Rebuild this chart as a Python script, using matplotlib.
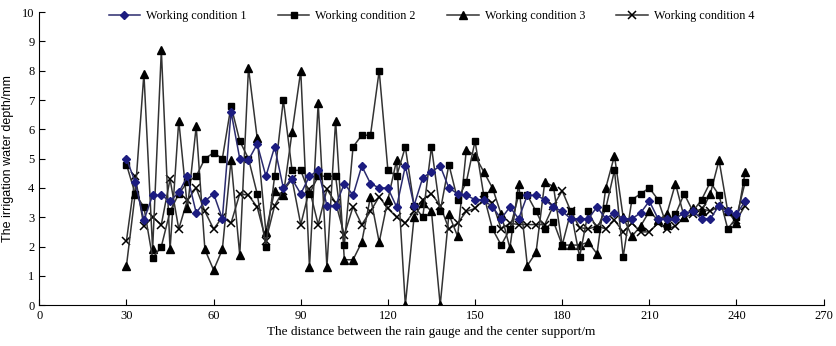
import matplotlib
matplotlib.use('Agg')
import matplotlib.pyplot as plt

plt.rcParams['font.family'] = 'Liberation Serif'

# distance from center support (m)
distance = [30, 33, 36, 39, 42, 45, 48, 51, 54, 57, 60, 63, 66, 69, 72, 75, 78, 81,
            84, 87, 90, 93, 96, 99, 102, 105, 108, 111, 114, 117, 120, 123, 126, 129,
            132, 135, 138, 141, 144, 147, 150, 153, 156, 159, 162, 165, 168, 171, 174,
            177, 180, 183, 186, 189, 192, 195, 198, 201, 204, 207, 210, 213, 216, 219,
            222, 225, 228, 231, 234, 237, 240, 243]

cond1 = [5.0, 4.2, 2.9, 3.75, 3.75, 3.55, 3.85, 4.4, 3.15, 3.55, 3.8, 2.95, 6.6, 5.0,
         4.95, 5.5, 4.4, 5.4, 4.0, 4.3, 3.8, 4.4, 4.6, 3.4, 3.4, 4.15, 3.75, 4.75, 4.15,
         4.0, 4.0, 3.35, 4.75, 3.4, 4.35, 4.55, 4.75, 4.0, 3.8, 3.75, 3.6, 3.6, 3.35,
         2.95, 3.35, 2.95, 3.75, 3.75, 3.6, 3.35, 3.2, 2.95, 2.95, 2.95, 3.35, 2.95,
         3.15, 2.95, 2.95, 3.15, 3.55, 2.95, 2.95, 2.95, 3.15, 3.2, 2.95, 2.95, 3.4,
         3.2, 3.1, 3.55]

cond2 = [4.8, 3.8, 3.35, 1.6, 2.0, 3.2, 3.8, 4.2, 4.4, 5.0, 5.2, 5.0, 6.8, 5.6, 5.0,
         3.8, 2.0, 4.4, 7.0, 4.6, 4.6, 3.8, 4.4, 4.4, 4.4, 2.05, 5.4, 5.8, 5.8, 8.0, 4.6,
         4.4, 5.4, 3.4, 3.0, 5.4, 3.2, 4.8, 3.6, 4.2, 5.6, 3.75, 2.6, 2.05, 2.6, 3.75,
         3.75, 3.2, 2.6, 2.85, 2.05, 3.2, 1.65, 3.2, 2.6, 3.3, 4.6, 1.65, 3.6, 3.8, 4.0,
         3.6, 2.7, 3.1, 3.8, 3.2, 3.6, 4.2, 3.75, 2.6, 3.0, 4.2]

cond3 = [1.35, 3.8, 7.9, 1.9, 8.7, 1.9, 6.3, 3.3, 6.1, 1.9, 1.2, 1.9, 4.95, 1.7, 8.1,
         5.7, 2.5, 3.9, 3.75, 5.9, 8.0, 1.3, 6.9, 1.3, 6.3, 1.55, 1.55, 2.15, 3.7, 2.15,
         3.6, 4.95, 0.0, 3.0, 3.5, 3.2, 0.0, 3.1, 2.35, 5.3, 5.1, 4.55, 4.0, 3.1, 1.95,
         4.15, 1.35, 1.8, 4.2, 4.05, 2.05, 2.05, 2.05, 2.15, 1.75, 4.0, 5.1, 3.0, 2.35,
         2.7, 3.2, 2.9, 3.1, 4.15, 3.0, 3.3, 3.2, 3.8, 4.95, 3.2, 2.8, 4.55]

cond4 = [2.2, 4.4, 2.7, 3.0, 2.75, 4.3, 2.6, 3.6, 4.0, 3.2, 2.6, 3.0, 2.8, 3.8, 3.75,
         3.35, 2.2, 3.4, 3.9, 4.3, 2.75, 3.95, 2.75, 3.95, 3.5, 2.4, 3.36, 2.75, 3.2,
         3.7, 3.3, 3.0, 2.8, 3.2, 3.6, 3.8, 3.4, 2.6, 2.8, 3.2, 3.3, 3.6, 3.5, 2.6, 2.8,
         2.75, 2.75, 2.75, 2.75, 3.4, 3.9, 3.2, 2.65, 2.6, 2.7, 2.6, 2.9, 2.5, 2.8, 2.5,
         2.5, 2.8, 2.6, 2.7, 3.0, 3.1, 3.3, 3.2, 3.4, 3.2, 2.9, 3.4]

labels = ['Working condition 1', 'Working condition 2',
          'Working condition 3', 'Working condition 4']

fig = plt.figure(figsize=(8.37, 3.46), dpi=100)
ax = fig.add_axes([0.047, 0.118, 0.937, 0.847])

line_col = '#333333'
ax.plot(distance, cond1, color='#2b2b6e', lw=1.1, marker='D', markersize=4.5,
        markerfacecolor='#1c1c80', markeredgecolor='#1c1c80', label=labels[0], zorder=5)
ax.plot(distance, cond2, color=line_col, lw=1.1, marker='s', markersize=5,
        markerfacecolor='black', markeredgecolor='black', label=labels[1], zorder=4)
ax.plot(distance, cond3, color=line_col, lw=1.1, marker='^', markersize=6,
        markerfacecolor='black', markeredgecolor='black', label=labels[2], zorder=3)
ax.plot(distance, cond4, color=line_col, lw=1.1, marker='x', markersize=6,
        markeredgewidth=1.1, markeredgecolor='black', label=labels[3], zorder=2)

ax.set_xlim(0, 270)
ax.set_ylim(0, 10)
ax.set_xticks(range(0, 271, 30))
ax.set_yticks(range(0, 11))
ax.tick_params(direction='in', labelsize=9, length=4, width=0.8)
for s in ['top', 'right']:
    ax.spines[s].set_visible(False)

ax.set_xlabel('The distance between the rain gauge and the center support/m', fontsize=9.5,
              labelpad=3)
ax.set_ylabel('The irrigation water depth/mm', fontsize=9, family='Liberation Sans',
              labelpad=6)

ax.legend(loc='upper center', bbox_to_anchor=(0.5, 1.045), ncol=4, frameon=False,
          fontsize=8.7, handlelength=2.6, columnspacing=2.6, handletextpad=0.5)

fig.savefig('out.png', dpi=100)
